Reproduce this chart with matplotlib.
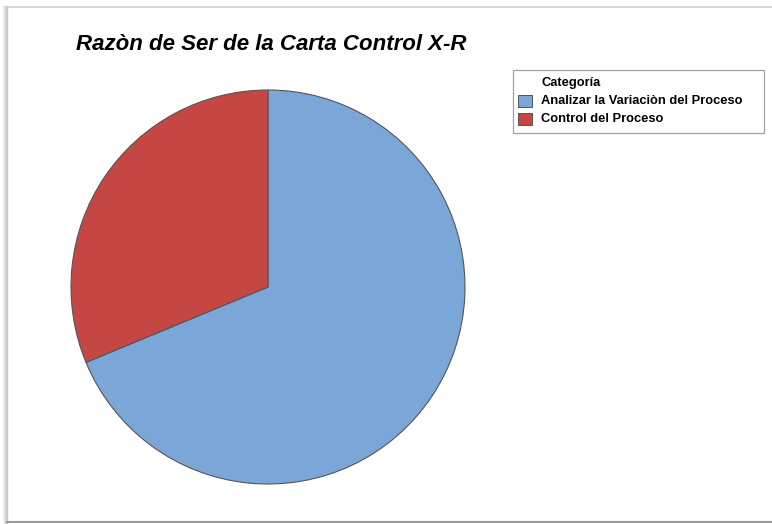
import matplotlib
matplotlib.use("Agg")
import matplotlib.pyplot as plt
from matplotlib.patches import Rectangle

plt.rcParams['font.family'] = ['Liberation Sans', 'DejaVu Sans']

categories = ["Analizar la Variaciòn del Proceso", "Control del Proceso"]
counts = [22, 10]
colors = ["#7BA6D8", "#C44744"]
title = "Razòn de Ser de la Carta Control X-R"
legend_title = "Categoría"

W, H = 772, 524
fig = plt.figure(figsize=(W / 100, H / 100), dpi=100)
fig.patch.set_facecolor("white")

def fx(px):
    return px / W

def fy(py):
    return 1 - py / H

# page frame with a soft shadow on the left and bottom
for i, g in enumerate(["#f2f2f2", "#e6e6e6", "#d8d8d8", "#cccccc"]):
    fig.patches.append(Rectangle((fx(3 + i), fy(524)), fx(1), fy(6) - fy(524),
                                 transform=fig.transFigure, color=g, zorder=-2))
fig.patches.append(Rectangle((fx(7), fy(521)), fx(W), fy(6) - fy(521),
                             transform=fig.transFigure, facecolor="white",
                             edgecolor="none", zorder=-1))
fig.add_artist(plt.Line2D([fx(7), fx(W)], [fy(6.5), fy(6.5)], color="#d0d0d0",
                          lw=1.2, transform=fig.transFigure))
fig.add_artist(plt.Line2D([fx(7), fx(7)], [fy(6.5), fy(521.5)], color="#c8c8c8",
                          lw=1.0, transform=fig.transFigure))
fig.add_artist(plt.Line2D([fx(7), fx(W)], [fy(521.5), fy(521.5)], color="#9a9a9a",
                          lw=1.5, transform=fig.transFigure))

# pie
cx, cy, r = 268, 287, 197
ax = fig.add_axes([fx(cx - r), fy(cy + r), fx(2 * r), fy(cy - r) - fy(cy + r)])
ax.set_zorder(1)
ax.patch.set_visible(False)
ax.pie(counts, colors=colors, startangle=90, counterclock=False,
       wedgeprops=dict(edgecolor="#555555", linewidth=0.8))
ax.set_xlim(-1, 1)
ax.set_ylim(-1, 1)
ax.set_aspect("equal")
ax.axis("off")

fig.text(fx(271), fy(45), title, ha="center", va="center",
         fontsize=16, fontweight="bold", fontstyle="italic", color="black")

# legend box
lx0, ly0, lx1, ly1 = 513, 70, 764, 133
fig.patches.append(Rectangle((fx(lx0), fy(ly1)), fx(lx1 - lx0), fy(ly0) - fy(ly1),
                             transform=fig.transFigure, facecolor="white",
                             edgecolor="#a0a0a0", lw=0.9, zorder=2))
fig.text(fx(541), fy(83), legend_title, ha="left", va="center",
         fontsize=9.3, fontweight="bold", zorder=3)
for i, (lab, col) in enumerate(zip(categories, colors)):
    yc = 101 + i * 18
    fig.patches.append(Rectangle((fx(518), fy(yc + 6)), fx(14), fy(yc - 6) - fy(yc + 6),
                                 transform=fig.transFigure, facecolor=col,
                                 edgecolor="#555555", lw=0.7, zorder=3))
    fig.text(fx(541), fy(yc), lab, ha="left", va="center",
             fontsize=9.3, fontweight="bold", zorder=3)

fig.savefig("out.png", dpi=100)
